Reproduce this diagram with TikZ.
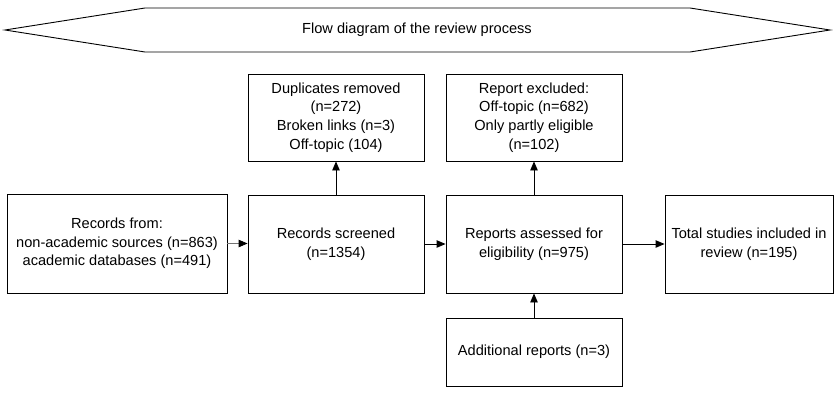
\documentclass[tikz,border=0pt]{standalone}
\usepackage{fontspec}
\setmainfont{Liberation Sans}
\usetikzlibrary{arrows.meta}
\begin{document}
\begin{tikzpicture}[x=1pt,y=-1pt,
  box/.style={draw=black, line width=0.9pt, align=center, inner sep=1pt,
    font=\fontsize{14.6pt}{18.6pt}\selectfont},
  arr/.style={line width=0.9pt, -{Triangle[length=9pt,width=7.5pt]}},
  banner/.style={draw=black, line width=0.9pt}]
\useasboundingbox (0,0) rectangle (837,393);
% banner
\draw[banner] (5,30) -- (145,8) -- (690,8) -- (830,30) -- (690,52) -- (145,52) -- cycle;
\node[font=\fontsize{14.6pt}{18.6pt}\selectfont] (title) at (417,30) {Flow diagram of the review process};
% boxes
\node[box, minimum width=220pt, minimum height=99pt] (src) at (117,243.5)
  {Records from:\\non-academic sources (n=863)\\academic databases (n=491)};
\node[box, minimum width=176pt, minimum height=98pt] (scr) at (336,244)
  {Records screened\\(n=1354)};
\node[box, minimum width=176pt, minimum height=87pt] (dup) at (336,117.5)
  {Duplicates removed\\(n=272)\\Broken links (n=3)\\Off-topic (104)};
\node[box, minimum width=176pt, minimum height=87pt] (exc) at (534,117.5)
  {Report excluded:\\Off-topic (n=682)\\Only partly eligible\\(n=102)};
\node[box, minimum width=176pt, minimum height=98pt] (ass) at (534,244)
  {Reports assessed for\\eligibility (n=975)};
\node[box, minimum width=168pt, minimum height=98pt] (tot) at (749,244)
  {Total studies included in\\review (n=195)};
\node[box, minimum width=176pt, minimum height=68pt] (add) at (534,352)
  {Additional reports (n=3)};
% connectors
\draw[arr, draw=black!55, -{Triangle[length=9pt,width=7.5pt,color=black]}] (src.east) -- (scr.west|-src.east);
\draw[arr] (scr.east) -- (ass.west);
\draw[arr] (ass.east) -- (tot.west);
\draw[arr] (scr.north) -- (dup.south);
\draw[arr] (ass.north) -- (exc.south);
\draw[arr] (add.north) -- (ass.south);
\end{tikzpicture}
\end{document}
